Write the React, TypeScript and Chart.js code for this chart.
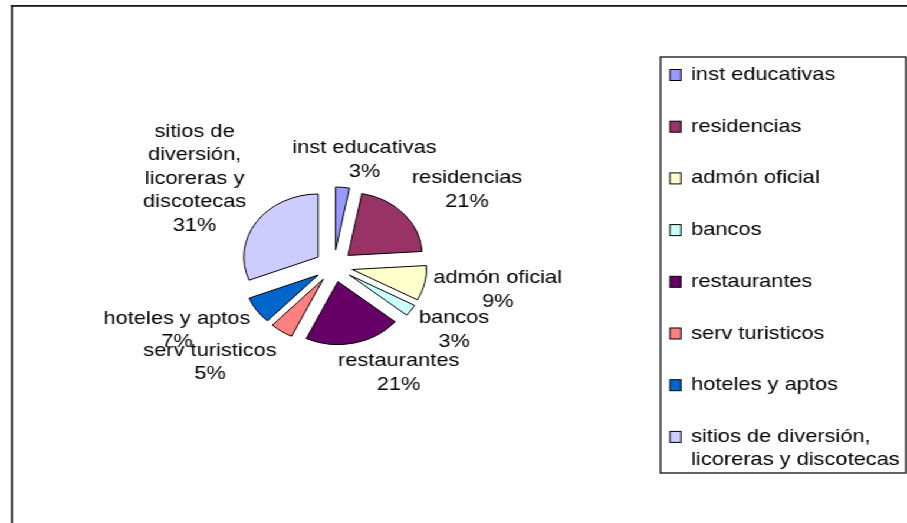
import React, { useEffect, useRef } from "react";
import { Chart, registerables } from "chart.js";

Chart.register(...registerables);

// ---- data ----
const categories = [
  "inst educativas",
  "residencias",
  "admón oficial",
  "bancos",
  "restaurantes",
  "serv turisticos",
  "hoteles y aptos",
  "sitios de diversión, licoreras y discotecas",
];
const values = [3, 21, 9, 3, 21, 5, 7, 31];
const colors = ["#9999FF", "#993366", "#FFFFCC", "#CCFFFF", "#660066", "#FF8080", "#0066CC", "#CCCCFF"];

// ---- layout ----
const PAGE_W = 907;
const PAGE_H = 523;
const CANVAS_W = 769;
const SX = PAGE_W / CANVAS_W;
const PIE_RADIUS = 63;
const EXPLODE = 16;
const FONT = '18.5px "Liberation Sans", Arial, sans-serif';
const LINE_H = 23.5;
const LABEL_WRAP = 130;
// label block centres relative to the pie centre
const labelOffsets: [number, number][] = [
  [26, -106],
  [113, -76],
  [139, 24],
  [102, 64],
  [55, 107],
  [-105, 96.5],
  [-133, 64.4],
  [-118, -87.4],
];
const LEGEND = { left: 560, top: 57, right: 768, bottom: 473, firstY: 75, step: 51.7, markerX: 568, markerW: 9.3, markerH: 11, textX: 586 };

function wrap(ctx: CanvasRenderingContext2D, text: string, maxW: number): string[] {
  const words = text.split(" ");
  const lines: string[] = [];
  let cur = "";
  for (const w of words) {
    const t = cur ? cur + " " + w : w;
    if (cur && ctx.measureText(t).width > maxW) {
      lines.push(cur);
      cur = w;
    } else cur = t;
  }
  if (cur) lines.push(cur);
  return lines;
}

const explodePlugin = {
  id: "explode",
  afterDatasetsUpdate(chart: any) {
    const meta = chart.getDatasetMeta(0);
    meta.data.forEach((el: any) => {
      const mid = (el.startAngle + el.endAngle) / 2;
      el.x += Math.cos(mid) * EXPLODE;
      el.y += Math.sin(mid) * EXPLODE;
    });
  },
};

const labelPlugin = {
  id: "pieLabels",
  afterDatasetsDraw(chart: any) {
    const { ctx, chartArea } = chart;
    const cx = (chartArea.left + chartArea.right) / 2;
    const cy = (chartArea.top + chartArea.bottom) / 2;
    const total = values.reduce((a, b) => a + b, 0);
    ctx.save();
    ctx.font = FONT;
    ctx.fillStyle = "#000";
    ctx.textAlign = "center";
    ctx.textBaseline = "middle";
    categories.forEach((name, i) => {
      const lines = wrap(ctx, name, LABEL_WRAP);
      lines.push(Math.round((values[i] / total) * 100) + "%");
      const [dx, dy] = labelOffsets[i];
      const y0 = cy + dy - ((lines.length - 1) * LINE_H) / 2;
      lines.forEach((l, k) => ctx.fillText(l, cx + dx, y0 + k * LINE_H));
    });
    ctx.restore();
  },
};

const framePlugin = {
  id: "frameLegend",
  afterDraw(chart: any) {
    const { ctx } = chart;
    ctx.save();
    // outer frame
    ctx.fillStyle = "#1a1a1a";
    ctx.fillRect(9.3, 5, 1.7, PAGE_H - 5);
    ctx.fillRect(9.3, 5, CANVAS_W, 1.8);
    // legend box
    ctx.strokeStyle = "#222";
    ctx.lineWidth = 1.4;
    ctx.strokeRect(LEGEND.left, LEGEND.top, LEGEND.right - LEGEND.left, LEGEND.bottom - LEGEND.top);
    ctx.font = FONT;
    ctx.textAlign = "left";
    ctx.textBaseline = "middle";
    categories.forEach((name, i) => {
      const y = LEGEND.firstY + i * LEGEND.step;
      ctx.fillStyle = colors[i];
      ctx.fillRect(LEGEND.markerX, y - LEGEND.markerH / 2, LEGEND.markerW, LEGEND.markerH);
      ctx.strokeStyle = "#000";
      ctx.lineWidth = 1;
      ctx.strokeRect(LEGEND.markerX, y - LEGEND.markerH / 2, LEGEND.markerW, LEGEND.markerH);
      ctx.fillStyle = "#000";
      const lines = wrap(ctx, name, LEGEND.right - LEGEND.textX - 2);
      lines.forEach((l, k) => ctx.fillText(l, LEGEND.textX, y + k * LINE_H));
    });
    ctx.restore();
  },
};

export default function App() {
  const ref = useRef<HTMLCanvasElement | null>(null);
  useEffect(() => {
    if (!ref.current) return;
    const chart = new Chart(ref.current, {
      type: "pie",
      data: {
        labels: categories,
        datasets: [
          {
            data: values,
            backgroundColor: colors,
            borderColor: "#000",
            borderWidth: 1,
          },
        ],
      },
      options: {
        responsive: false,
        animation: false,
        radius: PIE_RADIUS,
        layout: { padding: { left: 0, right: CANVAS_W - 2 * 283, top: 9, bottom: 0 } },
        plugins: {
          legend: { display: false },
          tooltip: { enabled: false },
          title: { display: false },
        },
      } as any,
      plugins: [explodePlugin, labelPlugin, framePlugin],
    });
    return () => chart.destroy();
  }, []);
  return (
    <div
      style={{
        position: "absolute",
        left: 0,
        top: 0,
        width: CANVAS_W,
        height: PAGE_H,
        transform: `scaleX(${SX})`,
        transformOrigin: "0 0",
        background: "#fff",
      }}
    >
      <canvas ref={ref} width={CANVAS_W} height={PAGE_H} style={{ display: "block" }} />
    </div>
  );
}
